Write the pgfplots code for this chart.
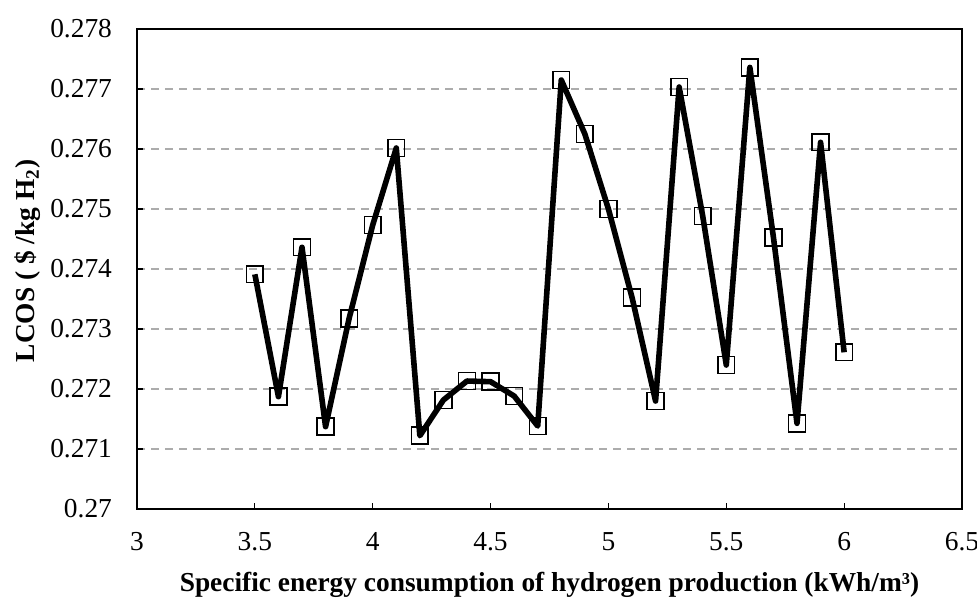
\documentclass[border=0pt]{standalone}
\usepackage{pgfplots}
\pgfplotsset{compat=1.18}
\usepackage{fontspec}
\setmainfont{Liberation Serif}

\pgfplotstableread{
x    lcos
3.5  0.273912
3.6  0.271872
3.7  0.274362
3.8  0.271372
3.9  0.273178
4.0  0.274733
4.1  0.276017
4.2  0.271222
4.3  0.271817
4.4  0.272133
4.5  0.272122
4.6  0.271883
4.7  0.271383
4.8  0.277150
4.9  0.276250
5.0  0.275000
5.1  0.273528
5.2  0.271800
5.3  0.277033
5.4  0.274883
5.5  0.272400
5.6  0.277360
5.7  0.274528
5.8  0.271428
5.9  0.276112
6.0  0.272612
}\lcosdata

\begin{document}
\begin{tikzpicture}
\begin{axis}[
  scale only axis,
  width=412.5pt, height=240pt,
  xmin=3, xmax=6.5, ymin=0.270, ymax=0.278,
  xtick={3,3.5,...,6.5},
  xticklabels={3,3.5,4,4.5,5,5.5,6,6.5},
  ytick={0.270,0.271,...,0.2785},
  yticklabels={0.27,0.271,0.272,0.273,0.274,0.275,0.276,0.277,0.278},
  tick align=inside,
  major tick length=3pt,
  xtick pos=bottom, ytick pos=left,
  tick style={black, line width=0.6pt},
  axis line style={black, line width=1.2pt},
  ymajorgrids,
  major grid style={gray!65, dashed, dash pattern=on 4pt off 3pt, line width=0.8pt},
  every tick label/.append style={font=\fontsize{13.7}{16}\selectfont},
  xticklabel style={yshift=-8pt},
  yticklabel style={xshift=-9pt},
  xlabel={\bfseries Specific energy consumption of hydrogen production (kWh/m³)},
  ylabel={\bfseries LCOS ( \$ /kg H\textsubscript{2})},
  label style={font=\fontsize{13.7}{16}\selectfont},
  xlabel style={yshift=-4pt},
  ylabel style={yshift=-2pt, xshift=4pt},
  clip=false,
]
\addplot[only marks, mark=square, mark size=4.2pt,
  mark options={black, line width=0.8pt, fill=none}] table[x=x, y=lcos] {\lcosdata};
\addplot[black, line width=2.8pt, line join=round, mark=none] table[x=x, y=lcos] {\lcosdata};
\end{axis}
\pgfresetboundingbox
\path (-68.5pt,-51pt) rectangle (420pt,254.5pt);
\end{tikzpicture}
\end{document}
